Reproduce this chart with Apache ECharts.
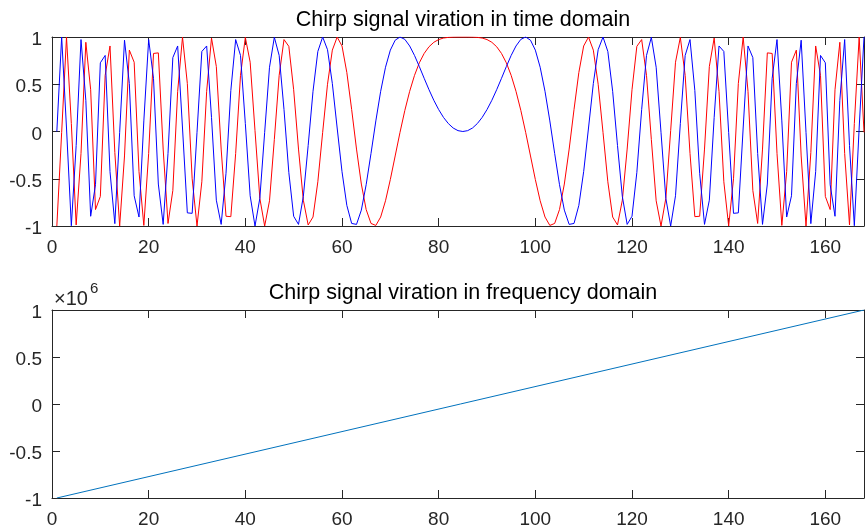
<!DOCTYPE html>
<html>
<head>
<meta charset="utf-8">
<script src="https://cdn.jsdelivr.net/npm/echarts@6/dist/echarts.min.js"></script>
<style>
html,body{margin:0;padding:0;background:#fff;}
#chart{width:867px;height:529px;}
</style>
</head>
<body>
<div id="chart"></div>
<script>
// Sample index 1..168
var realPart = [-1, -0.009, 0.999, 0.084, -0.989, -0.232, 0.944, 0.442, -0.826, -0.687,
 0.594, 0.905, -0.223, -1, -0.259, 0.861, 0.733, -0.425, -0.994, -0.232,
 0.826, 0.832, -0.186, -0.973, -0.624, 0.425, 0.999, 0.508, -0.5, -1,
 -0.532, 0.425, 0.989, 0.687, -0.186, -0.897, -0.901, -0.232, 0.594, 0.996,
 0.733, 0.009, -0.707, -1, -0.733, -0.084, 0.594, 0.973, 0.901, 0.442,
 -0.186, -0.727, -0.989, -0.905, -0.532, -0.009, 0.5, 0.861, 0.999, 0.905,
 0.624, 0.232, -0.186, -0.556, -0.826, -0.973, -0.994, -0.905, -0.733, -0.508,
 -0.259, -0.009, 0.223, 0.425, 0.594, 0.727, 0.826, 0.897, 0.944, 0.973,
 0.989, 0.996, 0.999, 1,
 1,
 1, 0.999, 0.996, 0.989,
 0.973, 0.944, 0.897, 0.826, 0.727, 0.594, 0.425, 0.223, -0.009, -0.259,
 -0.508, -0.733, -0.905, -0.994, -0.973, -0.826, -0.556, -0.186, 0.232, 0.624,
 0.905, 0.999, 0.861, 0.5, -0.009, -0.532, -0.905, -0.989, -0.727, -0.186,
 0.442, 0.901, 0.973, 0.594, -0.084, -0.733, -1, -0.707, 0.009, 0.733,
 0.996, 0.594, -0.232, -0.901, -0.897, -0.186, 0.687, 0.989, 0.425, -0.532,
 -1, -0.5, 0.508, 0.999, 0.425, -0.624, -0.973, -0.186, 0.832, 0.826,
 -0.232, -0.994, -0.425, 0.733, 0.861, -0.259, -1, -0.223, 0.905, 0.594,
 -0.687, -0.826, 0.442, 0.944, -0.232, -0.989, 0.084, 0.999, -0.009];

var imagPart = [0, 1, 0.037, -0.997, -0.149, 0.973, 0.330, -0.897, -0.563, 0.727,
 0.805, -0.425, -0.975, -0.009, 0.966, 0.508, -0.680, -0.905, 0.112, 0.973,
 0.563, -0.556, -0.983, -0.232, 0.782, 0.905, 0.037, -0.861, -0.866, -0.009,
 0.847, 0.905, 0.149, -0.727, -0.983, -0.442, 0.434, 0.973, 0.805, 0.084,
 -0.680, -1, -0.707, -0.009, 0.680, 0.997, 0.805, 0.232, -0.434, -0.897,
 -0.983, -0.687, -0.149, 0.425, 0.847, 1, 0.866, 0.508, 0.037, -0.425,
 -0.782, -0.973, -0.983, -0.832, -0.563, -0.232, 0.112, 0.425, 0.680, 0.861,
 0.966, 1, 0.975, 0.905, 0.805, 0.687, 0.563, 0.442, 0.330, 0.232,
 0.149, 0.084, 0.037, 0.009,
 0,
 0.009, 0.037, 0.084, 0.149,
 0.232, 0.330, 0.442, 0.563, 0.687, 0.805, 0.905, 0.975, 1, 0.966,
 0.861, 0.680, 0.425, 0.112, -0.232, -0.563, -0.832, -0.983, -0.973, -0.782,
 -0.425, 0.037, 0.508, 0.866, 1, 0.847, 0.425, -0.149, -0.687, -0.983,
 -0.897, -0.434, 0.232, 0.805, 0.997, 0.680, -0.009, -0.707, -1, -0.680,
 0.084, 0.805, 0.973, 0.434, -0.442, -0.983, -0.727, 0.149, 0.905, 0.847,
 -0.009, -0.866, -0.861, 0.037, 0.905, 0.782, -0.232, -0.983, -0.556, 0.563,
 0.973, 0.112, -0.905, -0.680, 0.508, 0.966, -0.009, -0.975, -0.425, 0.805,
 0.727, -0.563, -0.897, 0.330, 0.973, -0.149, -0.997, 0.037, 1];

var freqX = [1, 168];
var freqY = [-1000000, 1000000];

var xTicks = [0, 20, 40, 60, 80, 100, 120, 140, 160];
var yTicksTop = [-1, -0.5, 0, 0.5, 1];
var yTicksBottom = [-1, -0.5, 0, 0.5, 1]; // ×10^6

var title1 = 'Chirp signal viration in time domain';
var title2 = 'Chirp signal viration in frequency domain';

function pairs(ys) {
  var out = [];
  for (var i = 0; i < ys.length; i++) out.push([i + 1, ys[i]]);
  return out;
}
function zip(xs, ys) {
  var out = [];
  for (var i = 0; i < xs.length; i++) out.push([xs[i], ys[i]]);
  return out;
}

var AX = '#262626';
var FONT = 'Liberation Sans';

function xAx(grid, pos, showLabel) {
  return {
    type: 'value', gridIndex: grid, position: pos, min: 0, max: 168, interval: 20,
    axisLine: { show: true, onZero: false, lineStyle: { color: AX, width: 1 } },
    axisTick: { show: true, inside: true, length: 8, lineStyle: { color: AX } },
    axisLabel: {
      show: showLabel, color: AX, fontSize: 19, fontFamily: FONT, margin: 12,
      formatter: function (v) { return xTicks.indexOf(v) >= 0 ? String(v) : ''; }
    },
    splitLine: { show: false }
  };
}
function yAx(grid, pos, showLabel, scale, ticks) {
  return {
    type: 'value', gridIndex: grid, position: pos, min: -scale, max: scale, interval: scale / 2,
    axisLine: { show: true, onZero: false, lineStyle: { color: AX, width: 1 } },
    axisTick: { show: true, inside: true, length: 8, lineStyle: { color: AX } },
    axisLabel: {
      show: showLabel, color: AX, fontSize: 19, fontFamily: FONT, margin: 10,
      verticalAlign: 'top', lineHeight: 6,
      formatter: function (v) {
        var t = Math.round(v / scale * 10) / 10;
        return ticks.indexOf(t) >= 0 ? String(t) : '';
      }
    },
    splitLine: { show: false }
  };
}

var chart = echarts.init(document.getElementById('chart'), null, { renderer: 'canvas' });
chart.setOption({
  backgroundColor: '#ffffff',
  animation: false,
  grid: [
    { left: 52, top: 37, right: 0, height: 189 },
    { left: 52, top: 310, right: 0, height: 188 }
  ],
  xAxis: [xAx(0, 'bottom', true), xAx(0, 'top', false), xAx(1, 'bottom', true), xAx(1, 'top', false)],
  yAxis: [yAx(0, 'left', true, 1, yTicksTop), yAx(0, 'right', false, 1, yTicksTop),
          yAx(1, 'left', true, 1000000, yTicksBottom), yAx(1, 'right', false, 1000000, yTicksBottom)],
  graphic: [
    { type: 'text', style: { text: title1, x: 463, y: 20, textAlign: 'center', textVerticalAlign: 'middle', font: '21.5px "Liberation Sans"', fill: '#000' } },
    { type: 'text', style: { text: title2, x: 463, y: 293, textAlign: 'center', textVerticalAlign: 'middle', font: '21.5px "Liberation Sans"', fill: '#000' } },
    { type: 'text', style: { text: '\u00d710', x: 54, y: 299, textAlign: 'left', textVerticalAlign: 'middle', font: '20px "Liberation Sans"', fill: AX } },
    { type: 'text', style: { text: '6', x: 90, y: 289, textAlign: 'left', textVerticalAlign: 'middle', font: '15px "Liberation Sans"', fill: AX } }
  ],
  series: [
    { type: 'line', xAxisIndex: 0, yAxisIndex: 0, data: pairs(realPart), showSymbol: false, symbol: 'none',
      lineStyle: { color: '#ff0000', width: 1 }, z: 2 },
    { type: 'line', xAxisIndex: 0, yAxisIndex: 0, data: pairs(imagPart), showSymbol: false, symbol: 'none',
      lineStyle: { color: '#0000ff', width: 1 }, z: 3 },
    { type: 'line', xAxisIndex: 2, yAxisIndex: 2, data: zip(freqX, freqY), showSymbol: false, symbol: 'none',
      lineStyle: { color: '#0072bd', width: 1 }, z: 2 }
  ]
});
</script>
</body>
</html>
